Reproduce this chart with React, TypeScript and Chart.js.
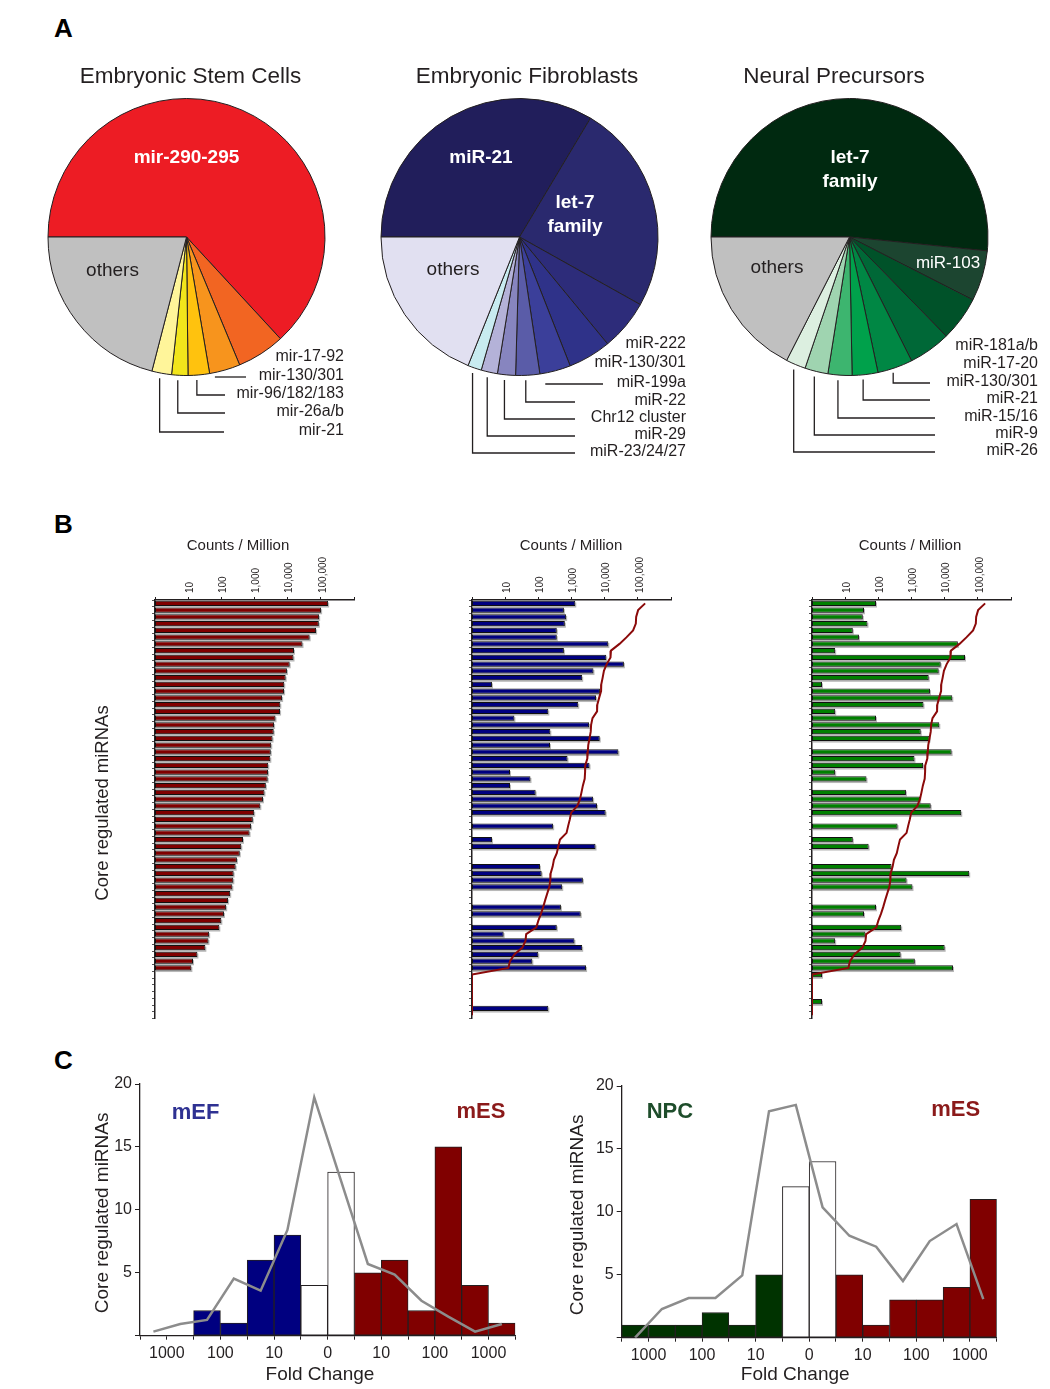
import React, { useEffect, useRef } from 'react';
import { Chart, registerables } from 'chart.js';

Chart.register(...registerables);

const FONT = '"Liberation Sans", Arial, Helvetica, sans-serif';
const INK = '#231f20';

// ---------------- Panel A : pie data (shares in %) ----------------
const esLabels = ['mir-290-295', 'mir-17-92', 'mir-130/301', 'mir-96/182/183', 'mir-26a/b', 'mir-21', 'others'];
const esShares = [63.2, 5.6, 3.6, 2.5, 1.9, 2.3, 21.0];
const esColors = ['#ed1c24', '#f26522', '#f7941d', '#ffc20e', '#f2e51b', '#fff59a', '#c0c0c0'];

const efLabels = ['miR-21', 'let-7 family', 'miR-222', 'miR-130/301', 'miR-199a', 'miR-22', 'Chr12 cluster', 'miR-29', 'miR-23/24/27', 'others'];
const efShares = [33.5, 24.5, 5.9, 5.0, 3.6, 2.8, 2.1, 1.9, 1.6, 18.9];
const efColors = ['#211e5b', '#2a296e', '#2d2c7a', '#2f3289', '#3b3f9a', '#5a5ca8', '#8785bf', '#b4b2d8', '#c8ebf0', '#e1e0f1'];

const npLabels = ['let-7 family', 'miR-103', 'miR-181a/b', 'miR-17-20', 'miR-130/301', 'miR-21', 'miR-15/16', 'miR-9', 'miR-26', 'others'];
const npShares = [51.6, 5.9, 5.2, 4.9, 4.1, 3.0, 2.8, 2.7, 2.3, 17.5];
const npColors = ['#002910', '#1c4530', '#005229', '#006837', '#008744', '#00a14b', '#3db56f', '#9fd4b0', '#dcefe0', '#c0c0c0'];

// ---------------- Panel B : counts per million (0 = not detected) ----------------
const esCounts = [
  166000, 102000, 89000, 87000, 72000, 46000, 28000, 15500, 15000, 11500,
  9500, 8700, 7900, 7800, 6800, 6000, 5900, 4300, 3900, 3800,
  3500, 3200, 3100, 3000, 2600, 2570, 2500, 2200, 2000, 1800,
  1500, 980, 890, 790, 710, 450, 400, 360, 295, 270,
  235, 230, 215, 185, 160, 140, 120, 100, 87, 43,
  41, 33, 19, 14, 12.5, 0, 0, 0, 0, 0,
  0, 0,
];
const efCounts = [
  1300, 590, 690, 630, 360, 360, 12900, 590, 11200, 38000,
  4600, 2100, 4, 7200, 5500, 1600, 200, 19, 3400, 230,
  7100, 225, 26000, 760, 3500, 14, 58, 14, 83, 4500,
  5900, 10700, 0, 280, 0, 4, 5300, 0, 0, 112,
  126, 2200, 525, 0, 0, 480, 1900, 0, 360, 9,
  1230, 2100, 100, 66, 2750, 0, 0, 0, 0, 0,
  200, 0,
];
const npCounts = [
  85, 37, 34, 47, 17, 26, 25000, 5, 41000, 7600,
  6600, 3300, 2, 3600, 17000, 2300, 5, 85, 6900, 1900,
  3500, 0, 16200, 1230, 2240, 5, 44, 0, 680, 1820,
  3800, 31600, 0, 380, 0, 17, 51, 0, 0, 250,
  55000, 710, 1070, 0, 0, 85, 37, 0, 490, 41,
  5, 10000, 470, 1260, 17800, 2, 0, 0, 0, 2,
  0, 0,
];
const rowLabels = esCounts.map((_, i) => `miRNA ${i + 1}`);
const countTicks = [1, 10, 100, 1000, 10000, 100000, 1000000];
const countTickLabels = ['', '10', '100', '1,000', '10,000', '100,000', ''];

// ---------------- Panel C : fold-change histograms ----------------
const foldTickLabels = ['', '1000', '', '100', '', '10', '', '0', '', '10', '', '100', '', '1000', ''];
const binGroups = ['down', 'down', 'down', 'down', 'down', 'down', 'same', 'same', 'up', 'up', 'up', 'up', 'up', 'up'];
const efVsEsBins = [0, 0, 2, 1, 6, 8, 4, 13, 5, 6, 2, 15, 4, 1];
const efVsEsLine = [0.32, 0.93, 1.25, 4.53, 3.58, 8.4, 18.94, 12.3, 5.7, 4.85, 2.78, 1.51, 0.32, 0.93];
const npVsEsBins = [1, 1, 1, 2, 1, 5, 12, 14, 5, 1, 3, 3, 4, 11];
const npVsEsLine = [0.0, 2.28, 3.15, 3.15, 4.95, 18.0, 18.5, 10.36, 8.1, 7.23, 4.5, 7.68, 9.03, 3.07];
const foldYTicks = [0, 5, 10, 15, 20];

// ---------------- helpers ----------------
function ChartBox({ left, top, width, height, make }: { left: number; top: number; width: number; height: number; make: () => any }) {
  const ref = useRef<HTMLCanvasElement>(null);
  useEffect(() => {
    const chart = new Chart(ref.current as HTMLCanvasElement, make());
    return () => chart.destroy();
  }, []);
  return <canvas ref={ref} width={width} height={height} style={{ position: 'absolute', left, top, width, height }} />;
}

type Inner = { idx: number; wrap?: boolean; dx: number; dy: number; color: string; bold: boolean; size: number };
type Outer = { idx: number; dy: number; leaderTo?: number };
type PieSpec = {
  labels: string[]; shares: number[]; colors: string[]; title: string; titleDx: number;
  inner: Inner[]; outer: Outer[]; outerRight: number;
  padding: { left: number; right: number; top: number; bottom: number };
};

function makePie(spec: PieSpec) {
  return {
    type: 'pie',
    data: {
      labels: spec.labels,
      datasets: [{ data: spec.shares, backgroundColor: spec.colors, borderColor: INK, borderWidth: 1 }],
    },
    options: {
      responsive: false,
      animation: false,
      rotation: 270,
      layout: { padding: spec.padding },
      plugins: { legend: { display: false }, tooltip: { enabled: false } },
    },
    plugins: [
      {
        id: 'pieText',
        afterDraw(chart: any) {
          const ctx = chart.ctx;
          const arcs = chart.getDatasetMeta(0).data as any[];
          const cx = arcs[0].x, cy = arcs[0].y, r = arcs[0].outerRadius;
          ctx.save();
          ctx.textAlign = 'center';
          ctx.textBaseline = 'middle';
          ctx.fillStyle = INK;
          ctx.font = `22.5px ${FONT}`;
          ctx.fillText(spec.title, cx + spec.titleDx, cy - 160);
          for (const it of spec.inner) {
            const lines = it.wrap ? spec.labels[it.idx].split(' ') : [spec.labels[it.idx]];
            ctx.font = `${it.bold ? 'bold ' : ''}${it.size}px ${FONT}`;
            ctx.fillStyle = it.color;
            lines.forEach((ln, i) => ctx.fillText(ln, cx + it.dx, cy + it.dy + (i - (lines.length - 1) / 2) * 24));
          }
          ctx.font = `16px ${FONT}`;
          ctx.textAlign = 'right';
          ctx.fillStyle = INK;
          ctx.strokeStyle = INK;
          ctx.lineWidth = 1.3;
          for (const o of spec.outer) {
            const y = cy + o.dy;
            ctx.fillText(spec.labels[o.idx], cx + spec.outerRight, y);
            if (o.leaderTo !== undefined) {
              const a = arcs[o.idx];
              const mid = (a.startAngle + a.endAngle) / 2;
              const x0 = cx + Math.cos(mid) * r - 2;
              const y0 = cy + Math.sin(mid) * r + 5;
              ctx.beginPath();
              if (y + 1 - y0 < 10) {
                ctx.moveTo(x0 - 8, y + 1);
              } else {
                ctx.moveTo(x0, y0);
                ctx.lineTo(x0, y + 1);
              }
              ctx.lineTo(cx + o.leaderTo, y + 1);
              ctx.stroke();
            }
          }
          ctx.restore();
        },
      },
    ],
  };
}

type CountSpec = { bars: number[]; line?: number[]; color: string; titleX: number; yTitle: boolean };

function makeCounts(spec: CountSpec) {
  const datasets: any[] = [];
  if (spec.line) {
    datasets.push({
      type: 'line',
      data: spec.line.map((v) => (v > 0 ? v : 1)),
      borderColor: '#8b0a0a',
      borderWidth: 2,
      pointRadius: 0,
      tension: 0,
      order: 0,
    });
  }
  datasets.push({
    type: 'bar',
    data: spec.bars.map((v) => (v > 0 ? v : null)),
    backgroundColor: spec.color,
    borderColor: '#111111',
    borderWidth: 1,
    borderSkipped: false,
    barPercentage: 0.76,
    categoryPercentage: 1,
    order: 1,
  });
  return {
    type: 'bar',
    data: { labels: rowLabels, datasets },
    options: {
      indexAxis: 'y',
      responsive: false,
      animation: false,
      layout: { padding: { left: 0, top: 0, right: 16, bottom: 11.5 } },
      plugins: { legend: { display: false }, tooltip: { enabled: false } },
      scales: {
        x: {
          type: 'logarithmic',
          position: 'top',
          min: 1,
          max: 1000000,
          afterBuildTicks: (s: any) => {
            s.ticks = countTicks.map((v) => ({ value: v }));
          },
          afterFit: (s: any) => {
            s.height = 70;
          },
          ticks: {
            autoSkip: false,
            minRotation: 90,
            maxRotation: 90,
            padding: 4,
            labelOffset: 14,
            color: INK,
            font: { family: FONT, size: 10 },
            callback: (v: any) => {
              const i = countTicks.indexOf(Number(v));
              return i >= 0 ? countTickLabels[i] : '';
            },
          },
          grid: { display: true, drawOnChartArea: false, drawTicks: true, tickLength: 3, color: INK },
          border: { display: true, color: INK, width: 1.5 },
        },
        y: {
          type: 'category',
          afterFit: (s: any) => {
            s.width = 95;
          },
          ticks: { display: false },
          grid: { display: true, drawOnChartArea: false, drawTicks: true, tickLength: 3, color: '#555', offset: true },
          border: { display: true, color: INK, width: 1.5 },
        },
      },
    },
    plugins: [
      {
        id: 'barShadow',
        beforeDatasetDraw(chart: any, args: any) {
          const meta = chart.getDatasetMeta(args.index);
          if (meta.type !== 'bar') return;
          const ctx = chart.ctx;
          ctx.save();
          ctx.fillStyle = '#b8b8b8';
          for (const el of meta.data as any[]) {
            if (el.skip) continue;
            const p = el.getProps(['x', 'y', 'base', 'height'], true);
            if (!isFinite(p.x)) continue;
            ctx.fillRect(p.base + 1, p.y - p.height / 2 + 1.6, p.x - p.base, p.height);
          }
          ctx.restore();
        },
      },
      {
        id: 'countText',
        afterDraw(chart: any) {
          const ctx = chart.ctx;
          ctx.save();
          ctx.fillStyle = INK;
          ctx.textAlign = 'center';
          ctx.textBaseline = 'middle';
          ctx.font = `15px ${FONT}`;
          ctx.fillText('Counts / Million', spec.titleX, 16);
          if (spec.yTitle) {
            ctx.translate(43, 273);
            ctx.rotate(-Math.PI / 2);
            ctx.font = `18.5px ${FONT}`;
            ctx.fillText('Core regulated miRNAs', 0, 0);
          }
          ctx.restore();
        },
      },
    ],
  };
}

type FoldSpec = {
  bins: number[]; line: number[]; downColor: string;
  leftLabel: string; leftColor: string; leftPos: [number, number];
  rightLabel: string; rightColor: string; rightPos: [number, number];
  yWidth: number; padding: { left: number; right: number; top: number; bottom: number };
  yTitleDx: number; xTitleDx: number; xTitleDy: number;
};

function makeFold(spec: FoldSpec) {
  const groupColor: Record<string, string> = { down: spec.downColor, same: '#ffffff', up: '#800000' };
  return {
    type: 'bar',
    data: {
      datasets: [
        {
          type: 'line',
          data: spec.line.map((v, i) => ({ x: i + 0.5, y: v })),
          borderColor: '#8c8c8c',
          borderWidth: 2.5,
          pointRadius: 0,
          tension: 0,
          order: 0,
        },
        {
          type: 'bar',
          data: spec.bins.map((v, i) => ({ x: i + 0.5, y: v > 0 ? v : null })),
          backgroundColor: binGroups.map((g) => groupColor[g]),
          borderColor: INK,
          borderWidth: 1,
          borderSkipped: false,
          barPercentage: 1,
          categoryPercentage: 1,
          order: 1,
        },
      ],
    },
    options: {
      responsive: false,
      animation: false,
      layout: { padding: spec.padding },
      plugins: { legend: { display: false }, tooltip: { enabled: false } },
      scales: {
        x: {
          type: 'linear',
          offset: false,
          min: 0,
          max: foldTickLabels.length - 1,
          afterBuildTicks: (s: any) => {
            s.ticks = foldTickLabels.map((_, i) => ({ value: i }));
          },
          afterFit: (s: any) => {
            s.height = 45;
          },
          ticks: {
            autoSkip: false,
            maxRotation: 0,
            padding: 4,
            color: INK,
            font: { family: FONT, size: 16 },
            callback: (v: any) => foldTickLabels[Math.round(Number(v))] ?? '',
          },
          grid: { display: true, offset: false, drawOnChartArea: false, tickLength: 4, color: INK },
          border: { display: true, color: INK, width: 1.3 },
        },
        y: {
          min: 0,
          max: 20,
          afterBuildTicks: (s: any) => {
            s.ticks = foldYTicks.map((v) => ({ value: v }));
          },
          afterFit: (s: any) => {
            s.width = spec.yWidth;
          },
          ticks: {
            padding: 3,
            color: INK,
            font: { family: FONT, size: 16 },
            callback: (v: any) => (Number(v) === 0 ? '' : String(v)),
          },
          grid: { display: true, drawOnChartArea: false, tickLength: 5, color: INK },
          border: { display: true, color: INK, width: 1.3 },
        },
      },
    },
    plugins: [
      {
        id: 'foldText',
        afterDraw(chart: any) {
          const ctx = chart.ctx;
          const xs = chart.scales.x, ys = chart.scales.y;
          const area = chart.chartArea;
          ctx.save();
          ctx.textAlign = 'center';
          ctx.textBaseline = 'middle';
          ctx.font = `bold 22px ${FONT}`;
          ctx.fillStyle = spec.leftColor;
          ctx.fillText(spec.leftLabel, xs.getPixelForValue(spec.leftPos[0]), ys.getPixelForValue(spec.leftPos[1]));
          ctx.fillStyle = spec.rightColor;
          ctx.fillText(spec.rightLabel, xs.getPixelForValue(spec.rightPos[0]), ys.getPixelForValue(spec.rightPos[1]));
          ctx.fillStyle = INK;
          ctx.font = `19px ${FONT}`;
          ctx.fillText('Fold Change', (area.left + area.right) / 2 + spec.xTitleDx, area.bottom + spec.xTitleDy);
          ctx.translate(area.left - spec.yTitleDx, (area.top + area.bottom) / 2 + 3);
          ctx.rotate(-Math.PI / 2);
          ctx.fillText('Core regulated miRNAs', 0, 0);
          ctx.restore();
        },
      },
    ],
  };
}

const letterStyle: React.CSSProperties = {
  position: 'absolute',
  fontFamily: FONT,
  fontWeight: 'bold',
  fontSize: 26,
  lineHeight: '26px',
  color: '#000',
};

export default function App() {
  return (
    <div style={{ position: 'absolute', left: 0, top: 0, width: 1050, height: 1389, background: '#fff', overflow: 'hidden' }}>
      <div style={{ ...letterStyle, left: 54, top: 15 }}>A</div>
      <div style={{ ...letterStyle, left: 54, top: 511 }}>B</div>
      <div style={{ ...letterStyle, left: 54, top: 1047 }}>C</div>

      <ChartBox
        left={30}
        top={50}
        width={330}
        height={420}
        make={() =>
          makePie({
            labels: esLabels,
            shares: esShares,
            colors: esColors,
            title: 'Embryonic Stem Cells',
            titleDx: 4,
            inner: [
              { idx: 0, dx: 0, dy: -79, color: '#ffffff', bold: true, size: 19 },
              { idx: 6, dx: -74, dy: 34, color: INK, bold: false, size: 19 },
            ],
            outer: [
              { idx: 1, dy: 120 },
              { idx: 2, dy: 139, leaderTo: 59.5 },
              { idx: 3, dy: 157, leaderTo: 38.5 },
              { idx: 4, dy: 175, leaderTo: 38.5 },
              { idx: 5, dy: 194, leaderTo: 37.5 },
            ],
            outerRight: 157.5,
            padding: { left: 17.5, right: 34.5, top: 48, bottom: 94 },
          })
        }
      />
      <ChartBox
        left={360}
        top={50}
        width={340}
        height={420}
        make={() =>
          makePie({
            labels: efLabels,
            shares: efShares,
            colors: efColors,
            title: 'Embryonic Fibroblasts',
            titleDx: 7.5,
            inner: [
              { idx: 0, dx: -38.5, dy: -79, color: '#ffffff', bold: true, size: 19 },
              { idx: 1, wrap: true, dx: 55.5, dy: -22, color: '#ffffff', bold: true, size: 19 },
              { idx: 9, dx: -66.5, dy: 33, color: INK, bold: false, size: 19 },
            ],
            outer: [
              { idx: 2, dy: 107 },
              { idx: 3, dy: 126 },
              { idx: 4, dy: 146, leaderTo: 83.5 },
              { idx: 5, dy: 164, leaderTo: 55.5 },
              { idx: 6, dy: 181, leaderTo: 55.5 },
              { idx: 7, dy: 198, leaderTo: 55.5 },
              { idx: 8, dy: 215, leaderTo: 55.5 },
            ],
            outerRight: 166.5,
            padding: { left: 20.5, right: 41.5, top: 48, bottom: 94 },
          })
        }
      />
      <ChartBox
        left={695}
        top={50}
        width={355}
        height={420}
        make={() =>
          makePie({
            labels: npLabels,
            shares: npShares,
            colors: npColors,
            title: 'Neural Precursors',
            titleDx: -15.5,
            inner: [
              { idx: 0, wrap: true, dx: 0.5, dy: -67, color: '#ffffff', bold: true, size: 19 },
              { idx: 1, dx: 98.5, dy: 26, color: '#ffffff', bold: false, size: 17 },
              { idx: 9, dx: -72.5, dy: 31, color: INK, bold: false, size: 19 },
            ],
            outer: [
              { idx: 2, dy: 109 },
              { idx: 3, dy: 127 },
              { idx: 4, dy: 145, leaderTo: 80.5 },
              { idx: 5, dy: 162, leaderTo: 80.5 },
              { idx: 6, dy: 180, leaderTo: 85.5 },
              { idx: 7, dy: 197, leaderTo: 85.5 },
              { idx: 8, dy: 214, leaderTo: 85.5 },
            ],
            outerRight: 188.5,
            padding: { left: 15.5, right: 61.5, top: 48, bottom: 94 },
          })
        }
      />

      <ChartBox left={60} top={530} width={310} height={500}
        make={() => makeCounts({ bars: esCounts, color: '#800000', titleX: 178, yTitle: true })} />
      <ChartBox left={377} top={530} width={310} height={500}
        make={() => makeCounts({ bars: efCounts, line: esCounts, color: '#000080', titleX: 194, yTitle: false })} />
      <ChartBox left={717} top={530} width={310} height={500}
        make={() => makeCounts({ bars: npCounts, line: esCounts, color: '#008000', titleX: 193, yTitle: false })} />

      <ChartBox left={60} top={1070} width={470} height={319}
        make={() =>
          makeFold({
            bins: efVsEsBins, line: efVsEsLine, downColor: '#000080',
            leftLabel: 'mEF', leftColor: '#2e3192', leftPos: [2.07, 17.7],
            rightLabel: 'mES', rightColor: '#8b1a1a', rightPos: [12.72, 17.78],
            yWidth: 80, padding: { left: 0, right: 14.7, top: 14, bottom: 8.3 },
            yTitleDx: 37, xTitleDx: -7.7, xTitleDy: 39.3,
          })
        } />
      <ChartBox left={540} top={1070} width={470} height={319}
        make={() =>
          makeFold({
            bins: npVsEsBins, line: npVsEsLine, downColor: '#003300',
            leftLabel: 'NPC', leftColor: '#1e4d2b', leftPos: [1.8, 17.95],
            rightLabel: 'mES', rightColor: '#8b1a1a', rightPos: [12.47, 18.1],
            yWidth: 81.7, padding: { left: 0, right: 13.3, top: 16, bottom: 6.3 },
            yTitleDx: 43.7, xTitleDx: -14, xTitleDy: 37,
          })
        } />
    </div>
  );
}
